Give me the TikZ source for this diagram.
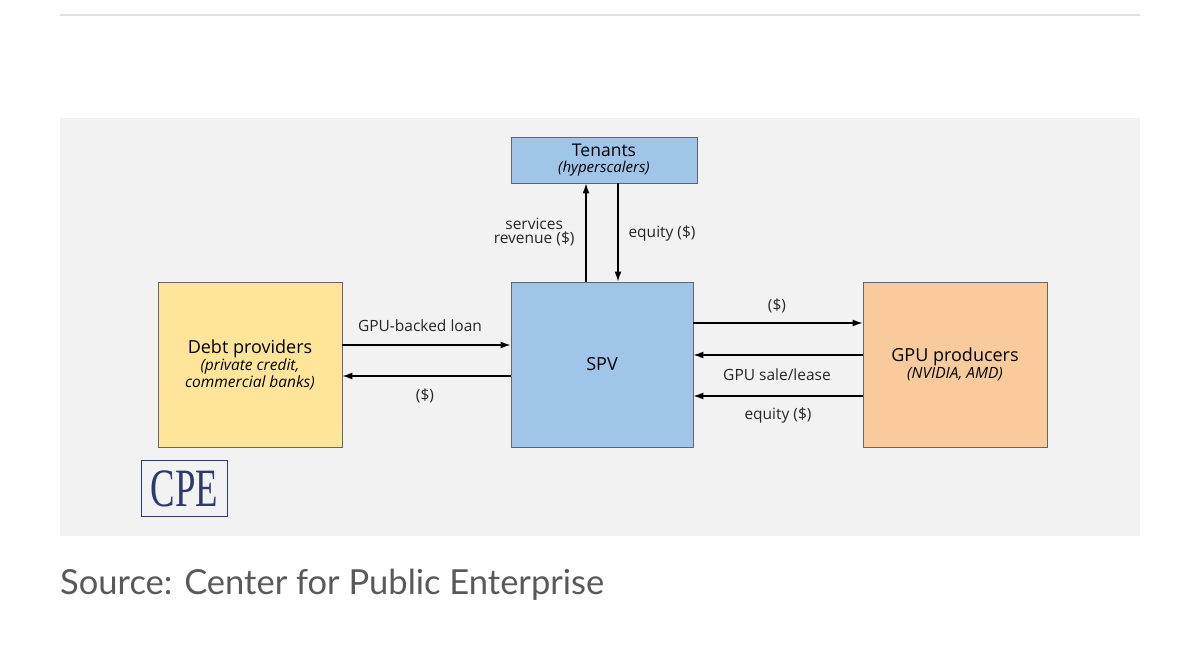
\documentclass[tikz,border=0pt]{standalone}
\usepackage{fontspec}
\setmainfont{Open Sans}
\newfontfamily\latof{Lato}
\newfontfamily\serf{Liberation Serif}
\usetikzlibrary{arrows.meta}
\definecolor{panel}{HTML}{F2F2F2}
\definecolor{blu}{HTML}{9FC5E8}
\definecolor{yel}{HTML}{FFE599}
\definecolor{org}{HTML}{F9CB9C}
\definecolor{navy}{HTML}{2E3A6B}
\newcommand{\subf}{\fontsize{15.5}{18}\selectfont\itshape}
\begin{document}
\begin{tikzpicture}[x=1pt,y=-1pt,
  box/.style={draw=black!60,line width=0.8pt,inner sep=0pt,align=center},
  lab/.style={font=\fontsize{15.5}{17}\selectfont,text=black!85,align=center},
  arr/.style={-{Latex[length=10pt,width=7pt]},line width=1.4pt}]
\useasboundingbox (0,0) rectangle (1200,671);
\fill[white] (0,0) rectangle (1200,671);
\draw[black!12,line width=2pt] (60,15) -- (1140,15);
\fill[panel] (60,118) rectangle (1140,536);
\node[box,fill=blu,minimum width=186pt,minimum height=46pt,font=\fontsize{17.5}{19}\selectfont] (ten) at (604,160) {Tenants\\[-3pt]{\fontsize{15}{17}\selectfont\itshape (hyperscalers)}};
\node[box,fill=blu,minimum width=182pt,minimum height=165pt,font=\fontsize{18}{20}\selectfont] (spv) at (602,364.5) {SPV};
\node[box,fill=yel,minimum width=184pt,minimum height=165pt,font=\fontsize{18}{20}\selectfont] (debt) at (250,364.5) {Debt providers\\[-3pt]{\subf (private credit,}\\[-3pt]{\subf commercial banks)}};
\node[box,fill=org,minimum width=184pt,minimum height=165pt,font=\fontsize{18}{20}\selectfont] (gpu) at (955,364.5) {GPU producers\\[-3pt]{\subf (NVIDIA, AMD)}};
\draw[arr] (spv.north -| 586,0) -- (ten.south -| 586,0);
\draw[arr] (ten.south -| 618,0) -- (spv.north -| 618,0);
\node[lab,anchor=east] (l1) at (578,232) {services\\[-3pt]revenue (\$)};
\node[lab,anchor=west] (l2) at (625,233) {equity (\$)};
\draw[arr] (debt.east |- 0,345) -- (spv.west |- 0,345);
\draw[arr] (spv.west |- 0,376) -- (debt.east |- 0,376);
\node[lab] (l3) at (420,326) {GPU-backed loan};
\node[lab] (l4) at (425,396) {(\$)};
\draw[arr] (spv.east |- 0,323) -- (gpu.west |- 0,323);
\draw[arr] (gpu.west |- 0,355) -- (spv.east |- 0,355);
\draw[arr] (gpu.west |- 0,396) -- (spv.east |- 0,396);
\node[lab] (l5) at (777,306) {(\$)};
\node[lab] (l6) at (777,375) {GPU sale/lease};
\node[lab] (l7) at (778,415) {equity (\$)};
\node[draw=navy,line width=1.2pt,minimum width=86pt,minimum height=56pt,inner sep=0pt,text=navy,font=\serf\fontsize{54}{54}\selectfont] (cpe) at (184.5,488.5) {\raisebox{-2pt}{\scalebox{0.68}[1]{CPE}}};
\node[anchor=west,inner sep=0pt,text=black!65,font=\latof\fontsize{34.5}{38}\selectfont] (src) at (60,585) {Source: Center for Public Enterprise};
\end{tikzpicture}
\end{document}
